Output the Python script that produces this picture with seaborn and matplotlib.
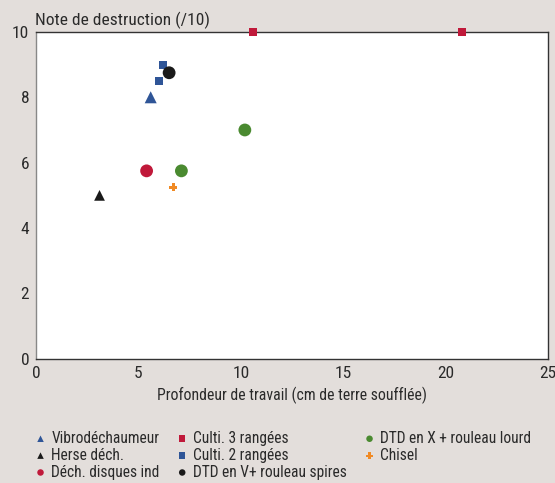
import matplotlib
matplotlib.use('Agg')
import matplotlib.pyplot as plt
import pandas as pd
import seaborn as sns

outils = ['Vibrodéchaumeur', 'Herse déch.', 'Déch. disques ind',
          'Culti. 3 rangées', 'Culti. 3 rangées', 'Culti. 2 rangées', 'Culti. 2 rangées',
          'DTD en V+ rouleau spires', 'DTD en X + rouleau lourd', 'DTD en X + rouleau lourd',
          'Chisel']
profondeur = [5.6, 3.1, 5.4, 10.6, 20.8, 6.0, 6.2, 6.5, 7.1, 10.2, 6.7]
note = [8.0, 5.0, 5.75, 10.0, 10.0, 8.5, 9.0, 8.75, 5.75, 7.0, 5.25]

ordre = ['Vibrodéchaumeur', 'Herse déch.', 'Déch. disques ind',
         'Culti. 3 rangées', 'Culti. 2 rangées', 'DTD en V+ rouleau spires',
         'DTD en X + rouleau lourd', 'Chisel']
couleurs = ['#2f5597', '#1a1a1a', '#c0193a', '#c0193a', '#2f5597', '#1a1a1a', '#4a8a30', '#f08a24']
formes = ['^', '^', 'o', 's', 's', 'o', 'o', 'P']
tailles = [75, 60, 85, 32, 32, 85, 85, 38]

df = pd.DataFrame({'outil': outils, 'profondeur': profondeur, 'note': note})

sns.set_style('white')
plt.rcParams['font.family'] = ['Roboto Condensed', 'DejaVu Sans']

bg = '#e3dedb'
txt = '#2a2a2a'
fig = plt.figure(figsize=(5.55, 4.83), dpi=100, facecolor=bg)
ax = fig.add_axes([0.065, 0.257, 0.922, 0.677])
ax.set_facecolor('white')

for nom, c, m, s in zip(ordre, couleurs, formes, tailles):
    sub = df[df['outil'] == nom]
    sns.scatterplot(data=sub, x='profondeur', y='note', color=c, marker=m, s=s,
                    edgecolor='none', ax=ax, label=nom, clip_on=False, zorder=3)

ax.set_xlim(0, 25)
ax.set_ylim(0, 10)
ax.set_xticks([0, 5, 10, 15, 20, 25])
ax.set_yticks([0, 2, 4, 6, 8, 10])
ax.tick_params(axis='both', direction='out', length=4, width=0.8, color='#666666',
               labelsize=12.5, labelcolor=txt, pad=1)
for sp in ax.spines.values():
    sp.set_color('#333333')
    sp.set_linewidth(1.0)
ax.spines['left'].set_color('#888888')

ax.set_xlabel('Profondeur de travail (cm de terre soufflée)', fontsize=11.3,
              color=txt, labelpad=4)
ax.set_ylabel('')
fig.text(0.063, 0.94, 'Note de destruction (/10)', fontsize=12.5, color=txt,
         ha='left', va='bottom')

h, l = ax.get_legend_handles_labels()
ax.get_legend().remove()
leg = fig.legend(h, l, ncol=3, loc='upper left', bbox_to_anchor=(0.066, 0.108),
                 frameon=False, fontsize=11.2, handlelength=0.5,
                 handletextpad=0.45, columnspacing=1.2, labelspacing=0.12,
                 borderaxespad=0, borderpad=0)
for hd in leg.legend_handles:
    hd.set_sizes([22])
for t in leg.get_texts():
    t.set_color(txt)

fig.savefig('out.png', dpi=100, facecolor=bg)
